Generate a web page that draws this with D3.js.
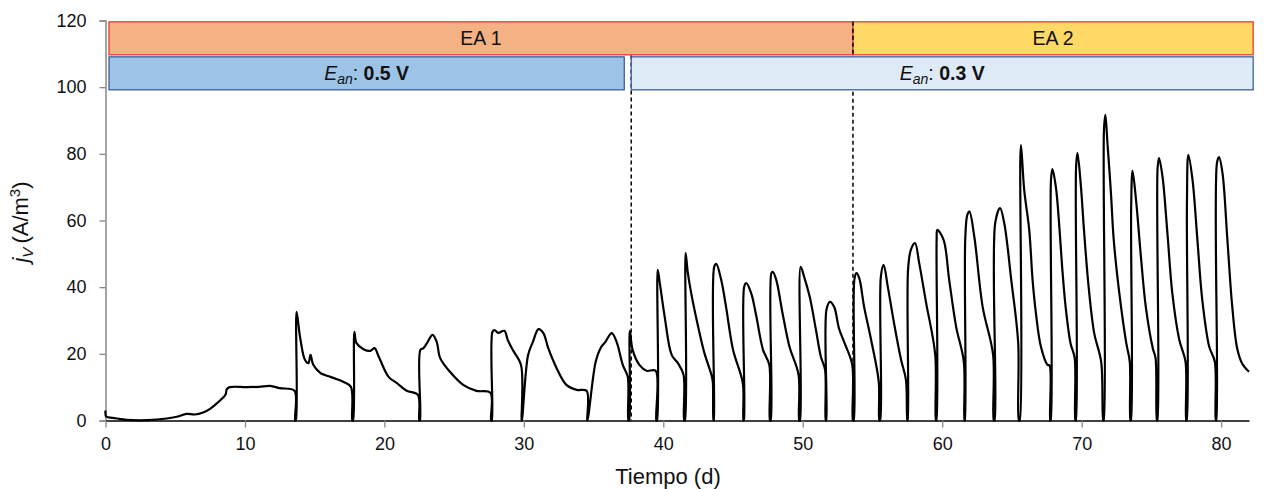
<!DOCTYPE html>
<html><head><meta charset="utf-8">
<script src="https://cdn.jsdelivr.net/npm/d3@7"></script>
<style>body{margin:0;background:#fff}svg{display:block;font-family:"Liberation Sans",Arial,sans-serif}</style>
</head><body>
<svg id="c" width="1269" height="489"></svg>
<script>
// Time (days) and volumetric current density j_V (A/m3)
const days = [0,0.05,0.5,1.0,1.5,3,4.4,5.2,5.8,6.4,7.0,7.5,8.0,8.6,8.7,8.9,10.1,11.0,11.8,12.5,13.55,13.6,13.65,
13.7,13.95,14.3,14.55,14.7,14.9,15.4,15.7,16.6,17.05,17.6,17.7,17.75,
17.85,18.0,18.5,19.0,19.3,19.55,20.3,20.9,21.6,22.4,22.5,22.55,
22.58,22.8,23.05,23.45,23.75,24.0,24.7,25.65,26.6,27.6,27.65,27.7,
27.75,27.9,28.15,28.6,28.85,29.2,29.8,29.85,
30.3,30.65,31.05,31.4,31.75,32.35,33.05,33.8,34.5,34.55,
35.15,35.5,35.85,36.3,36.65,37.1,37.45,37.5,37.55,
37.6,37.8,38.3,38.8,39.45,39.5,39.55,
39.6,39.75,40.1,40.6,41.05,41.45,41.5,41.55,
41.6,41.75,42.0,42.5,42.95,43.45,43.55,43.6,43.62,
43.65,43.8,44.15,44.5,45.0,45.7,45.75,45.78,
45.8,45.95,46.3,46.65,47.15,47.6,47.65,47.7,
47.75,47.85,48.1,48.55,49.05,49.7,49.75,49.8,
49.85,50.1,50.5,50.95,51.3,51.6,51.65,51.68,
51.7,51.95,52.25,52.6,53.0,53.55,53.6,53.65,
53.7,53.85,54.05,54.4,54.9,55.45,55.5,55.55,
55.6,55.8,56.1,56.55,57.05,57.4,57.5,57.52,
57.55,57.75,58.05,58.35,58.85,59.5,59.55,59.58,
59.6,59.65,60.1,60.5,61.0,61.55,61.6,61.62,
61.65,61.8,61.95,62.3,62.9,63.65,63.7,63.75,
63.8,64.15,64.45,64.95,65.45,65.5,65.55,
65.6,65.65,65.88,66.24,66.48,66.72,67.08,67.55,67.7,67.75,67.78,
67.8,67.9,68.15,68.4,68.6,68.85,69.2,69.5,69.55,69.58,
69.6,69.7,69.95,70.15,70.5,70.9,71.4,71.55,71.58,
71.6,71.7,71.85,72.1,72.3,72.7,73.2,73.45,73.5,73.53,
73.55,73.65,73.9,74.25,74.6,75.1,75.3,75.4,75.43,
75.45,75.55,75.8,76.15,76.5,77.0,77.45,77.5,77.53,
77.55,77.65,77.95,78.3,78.65,79.15,79.55,79.62,79.65,
79.7,79.85,80.1,80.45,80.8,81.15,81.5,82.0];
const jv = [3,1.2,0.8,0.5,0.2,0.1,0.6,1.2,2.0,1.8,2.4,3.5,5.2,7.7,9.4,10,10,10.1,10.4,9.7,8.9,0,0,
32.6,25.1,18.2,17.2,19.7,16.7,14.3,13.7,12.4,11.6,10.1,0,0,
26.6,23.2,21.4,20.9,21.7,19.6,13.1,11.2,8.9,7.7,0,0,
21.2,21.7,23.2,25.7,23.6,18.7,14.6,10.7,8.9,8.3,0,0,
26.6,27.1,26.3,26.9,24.1,21.2,16.6,0,
19.6,23.6,27.4,26.2,21.7,15.7,10.7,9.2,8.9,0,
17.6,21.7,23.6,26.2,23.6,16.6,13.1,0,0,
26.9,21.2,16.6,14.9,14.9,0,0,
45.2,41.2,31.1,19.7,17.2,13.7,0,0,
50.2,44.6,38.2,28.1,20.2,13.7,11.6,0,0,
46.1,47,42.2,34.1,21.2,11.2,0,0,
40.1,41.2,38.2,31.7,21.2,16.7,0,0,
44.2,44.6,42.2,32.2,22.1,13.7,0,0,
46.1,43.1,37.1,27.1,19.1,15.2,0,0,
33.2,35.6,34.1,27.6,23.2,16.7,0,0,
42.2,44.2,42.7,34.1,24.2,11.6,0,0,
43.1,46.7,40.1,29.1,18.2,12.2,0,0,
45.2,51.2,53.2,47.2,35.2,19.7,0,0,
54.2,57.2,54.2,42.2,28.1,17.6,0,0,
54.2,61.7,62.7,55.2,34.1,19.7,0,0,
59.2,63.7,59.2,42.2,23.2,0,0,
78,82.6,69.2,57.2,42.2,32.2,22.1,16.7,16.5,0,0,
72.2,75.4,70.1,58.1,46.1,34.1,23.2,18.7,0,0,
76.1,80.3,70.1,58.1,40.1,26.2,17.6,0,0,
87.2,91.7,83.2,68.2,54.2,38.2,23.2,17.6,0,0,
64.1,74.9,66.1,49.1,34.1,21.7,18.7,0,0,
76.1,78.7,73.1,56.2,38.2,24.2,17.6,0,0,
65.2,79.7,72.2,54.2,36.2,22.1,17.6,0,0,
77.2,79,74.2,54.2,34.1,21.7,17.2,14.6];

const xTicks = [0,10,20,30,40,50,60,70,80];
const yTicks = [0,20,40,60,80,100,120];
const eaLabels = ["EA 1","EA 2"];
const eaSpans = [[0.25,53.6],[53.6,82.3]];
const eanValues = ["0.5 V","0.3 V"];
const eanSpans = [[0.25,37.2],[37.7,82.3]];
const dashDays = [37.7,53.6];

const svg = d3.select("#c");
const x = d3.scaleLinear().domain([0,82]).range([105.5,1249]);
const y = d3.scaleLinear().domain([0,120]).range([420.5,20.5]);

// EA bars
const eaFill = ["#F4B183","#FFD966"];
eaSpans.forEach((s,i)=>{
  svg.append("rect").attr("x",x(s[0])).attr("width",x(s[1])-x(s[0]))
    .attr("y",y(119.6)).attr("height",y(109.7)-y(119.6))
    .attr("fill",eaFill[i]).attr("stroke","#E0302A").attr("stroke-width",1.2);
  svg.append("text").attr("x",(x(s[0])+x(s[1]))/2).attr("y",(y(119.6)+y(109.7))/2+7)
    .attr("text-anchor","middle").attr("font-size",19.5).attr("fill","#111").text(eaLabels[i]);
});

// dashed lines
svg.append("line").attr("x1",x(dashDays[0])).attr("x2",x(dashDays[0])).attr("y1",y(109.5)).attr("y2",y(0))
  .attr("stroke","#000").attr("stroke-width",1.5).attr("stroke-dasharray","4,3");
svg.append("line").attr("x1",x(dashDays[1])).attr("x2",x(dashDays[1])).attr("y1",y(119.6)).attr("y2",y(0))
  .attr("stroke","#000").attr("stroke-width",1.5).attr("stroke-dasharray","4,3");

// Ean bars
const eanFill = ["#9DC3E6","#DEEBF7"];
eanSpans.forEach((s,i)=>{
  svg.append("rect").attr("x",x(s[0])).attr("width",x(s[1])-x(s[0]))
    .attr("y",y(109.1)).attr("height",y(99.2)-y(109.1))
    .attr("fill",eanFill[i]).attr("stroke","#2F5597").attr("stroke-width",1.2);
  const t = svg.append("text").attr("x",(x(s[0])+x(s[1]))/2).attr("y",(y(109.1)+y(99.2))/2+7)
    .attr("text-anchor","middle").attr("font-size",19.5).attr("fill","#111");
  t.append("tspan").attr("font-style","italic").text("E");
  t.append("tspan").attr("font-style","italic").attr("font-size",14).attr("baseline-shift","-4").text("an");
  t.append("tspan").text(": ");
  t.append("tspan").attr("font-weight","bold").text(eanValues[i]);
});

// axes
const ya = svg.append("g").attr("transform","translate(105.5,0)")
  .call(d3.axisLeft(y).tickValues(yTicks).tickSize(6).tickPadding(13));
ya.select(".domain").attr("stroke","#888").attr("stroke-width",1.5);
ya.selectAll(".tick line").attr("stroke","#888").attr("stroke-width",1.3);
ya.selectAll(".tick text").attr("font-size",18).attr("fill","#111").attr("font-family","Liberation Sans, Arial");

const xa = svg.append("g").attr("transform","translate(0,420.5)")
  .call(d3.axisBottom(x).tickValues(xTicks).tickSize(7).tickPadding(10).tickSizeOuter(0));
xa.select(".domain").attr("stroke","#000").attr("stroke-width",1.5);
xa.selectAll(".tick line").attr("stroke","#888").attr("stroke-width",1.3);
xa.selectAll(".tick text").attr("font-size",18).attr("fill","#111").attr("font-family","Liberation Sans, Arial");

// series
const pts = days.map((d,i)=>[d,jv[i]]);
svg.append("path").datum(pts)
  .attr("d",d3.line().x(d=>x(d[0])).y(d=>y(d[1])).curve(d3.curveCatmullRom.alpha(0.5)))
  .attr("fill","none").attr("stroke","#000").attr("stroke-width",2.2).attr("stroke-linejoin","round");

// titles
svg.append("text").attr("x",668).attr("y",484).attr("text-anchor","middle")
  .attr("font-size",22).attr("fill","#111").text("Tiempo (d)");
const yt = svg.append("text").attr("transform","translate(28,222) rotate(-90)").attr("text-anchor","middle")
  .attr("font-size",22).attr("fill","#111");
yt.append("tspan").attr("font-style","italic").text("j");
yt.append("tspan").attr("font-style","italic").attr("font-size",15).attr("baseline-shift","-5").text("V");
yt.append("tspan").attr("dx",4).text("(A/m");
yt.append("tspan").attr("font-size",15).attr("baseline-shift","super").text("3");
yt.append("tspan").text(")");
</script>
</body></html>
